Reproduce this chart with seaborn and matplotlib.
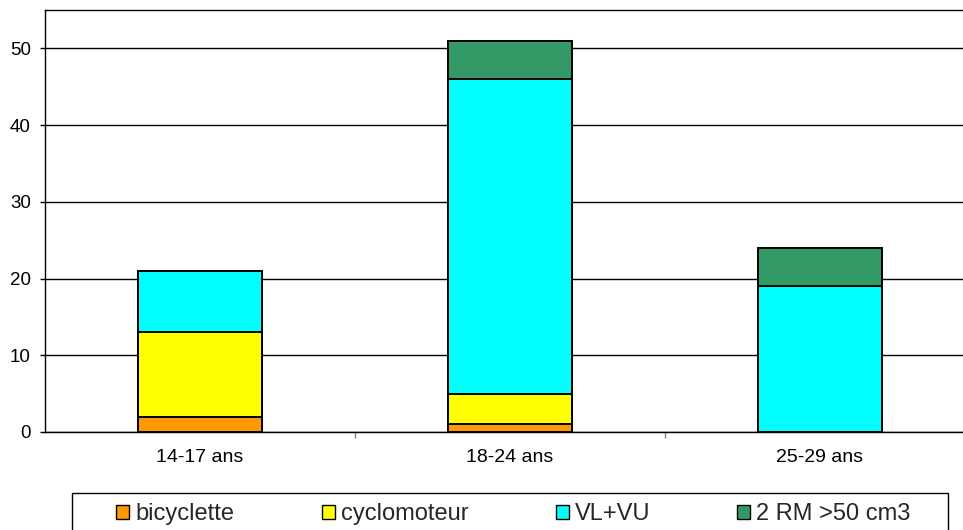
import matplotlib
matplotlib.use('Agg')
import matplotlib.pyplot as plt
import seaborn as sns
import numpy as np
from matplotlib.patches import Patch, Rectangle

ages = ['14-17 ans', '18-24 ans', '25-29 ans']
series = ['bicyclette', 'cyclomoteur', 'VL+VU', '2 RM >50 cm3']
bicyclette = [2, 1, 0]
cyclomoteur = [11, 4, 0]
vl_vu = [8, 41, 19]
deux_rm = [0, 5, 5]
colors = ['#FF9900', '#FFFF00', '#00FFFF', '#339966']

sns.set_style('white')
plt.rcParams['font.family'] = ['Liberation Sans', 'DejaVu Sans']

W, H = 963, 530
figure = plt.figure(figsize=(W / 100, H / 100), dpi=100)
axes = figure.add_axes([45 / W, 1 - 432 / H, 930 / W, 422 / H])

values = np.array([bicyclette, cyclomoteur, vl_vu, deux_rm], dtype=float)
cumulative = values.cumsum(axis=0)

# draw stacks from top down so each lower segment covers the one above
for i in range(len(series) - 1, -1, -1):
    sns.barplot(x=ages, y=cumulative[i], color=colors[i], width=0.4,
                edgecolor='black', linewidth=1.4, saturation=1, ax=axes, zorder=3)

axes.set_ylim(0, 55)
axes.set_xlim(-0.5, 2.5)
axes.set_yticks([0, 10, 20, 30, 40, 50])
axes.yaxis.grid(True, color='black', linewidth=1)
axes.set_axisbelow(True)
for side in ['left', 'top', 'bottom', 'right']:
    axes.spines[side].set_visible(True)
    axes.spines[side].set_color('black')
    axes.spines[side].set_linewidth(1)

axes.tick_params(axis='y', left=True, length=3.6, width=1, color='black',
                 labelsize=13.5, labelcolor='black', pad=6.5)
axes.tick_params(axis='x', which='major', length=0, labelsize=14,
                 labelcolor='black', pad=12)
axes.set_xticks([0.5, 1.5], minor=True)
axes.tick_params(axis='x', which='minor', bottom=True, length=4, width=1, color='#808080')
axes.set_xlabel('')
axes.set_ylabel('')

# legend box runs off the bottom edge of the picture
figure.patches.append(Rectangle((72 / W, -0.05), (948 - 72) / W, 0.05 + 1 - 493 / H,
                                transform=figure.transFigure, facecolor='white',
                                edgecolor='black', linewidth=1))
handles = [Patch(facecolor=c, edgecolor='black', linewidth=1) for c in colors]
figure.legend(handles, series, loc='center', ncol=4,
              bbox_to_anchor=(513.5 / W, 1 - 514 / H),
              fontsize=17, frameon=False, handlelength=0.55, handleheight=0.55,
              handletextpad=0.25, columnspacing=3.7, borderpad=0, borderaxespad=0)

figure.savefig('out.png', dpi=100)
